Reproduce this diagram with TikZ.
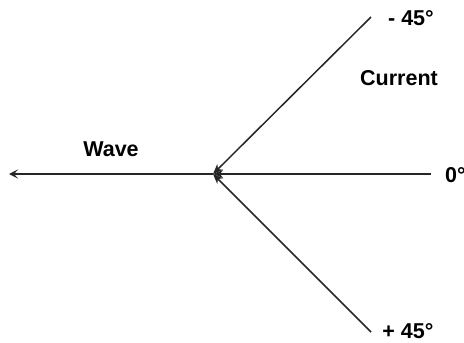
\documentclass[tikz,border=0pt]{standalone}
\usepackage{fontspec}
\setmainfont{Liberation Sans}
\usetikzlibrary{arrows.meta}
\begin{document}
\begin{tikzpicture}[x=1pt,y=-1pt,
  lbl/.style={font=\fontsize{21.5}{23}\selectfont\bfseries, inner sep=0pt},
  ray/.style={line width=1.5pt, draw=black!85, -{Stealth[length=10pt,width=8pt,inset=3pt]}},
  wave/.style={line width=1.5pt, draw=black!85, -{Stealth[length=9pt,width=9pt,inset=4pt]}}]
\useasboundingbox (0,0) rectangle (464,343);
\coordinate (c) at (213,174);
\coordinate (tl) at (371,17);
\coordinate (rr) at (431,174);
\coordinate (bl) at (371,332);
\coordinate (wl) at (9,174);
\draw[ray] (tl) -- (c);
\draw[ray] (rr) -- (c);
\draw[ray] (bl) -- (c);
\draw[wave] (c) -- (wl);
\node[lbl] (m45) at (411,18) {- 45°};
\node[lbl] (cur) at (399,78) {Current};
\node[lbl] (wv) at (111,149) {Wave};
\node[lbl, anchor=west] (z) at (445,175) {0°};
\node[lbl] (p45) at (408,331) {+ 45°};
\end{tikzpicture}
\end{document}
